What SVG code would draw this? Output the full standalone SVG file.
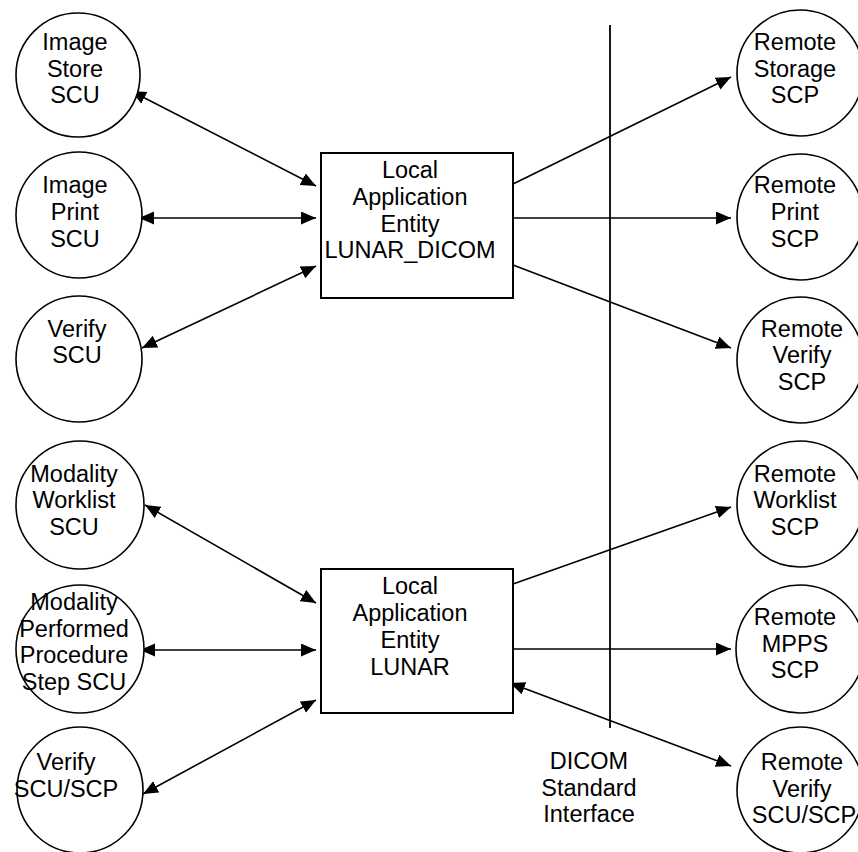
<svg xmlns="http://www.w3.org/2000/svg" width="858" height="852" viewBox="0 0 858 852">
<defs>
<marker id="ah" markerUnits="userSpaceOnUse" markerWidth="16" markerHeight="14" refX="15" refY="6.5" orient="auto-start-reverse">
<path d="M0,0 L15,6.5 L0,13 Z" fill="#000"/>
</marker>
<style>
.c{fill:#fff;stroke:#000;stroke-width:1.6}
.b{fill:#fff;stroke:#000;stroke-width:2}
.l{fill:none;stroke:#000;stroke-width:1.6;marker-start:url(#ah);marker-end:url(#ah)}
.l1{fill:none;stroke:#000;stroke-width:1.6;marker-end:url(#ah)}
text{font-family:"Liberation Sans",Arial,sans-serif;font-size:23.5px;fill:#000;text-anchor:middle}
</style>
</defs>
<rect width="858" height="852" fill="#fff"/>
<g id="interface">
<line x1="610" y1="25" x2="610" y2="728" stroke="#000" stroke-width="1.8"/>
<text x="589" y="769">DICOM</text>
<text x="589" y="796">Standard</text>
<text x="589" y="822">Interface</text>
</g>
<g id="connectors">
<line class="l" x1="131" y1="91" x2="316" y2="186"/>
<line class="l" x1="139" y1="218" x2="316" y2="218"/>
<line class="l" x1="142" y1="348" x2="316" y2="266"/>
<line class="l1" x1="513" y1="184" x2="731" y2="77"/>
<line class="l1" x1="513" y1="218" x2="731" y2="218"/>
<line class="l1" x1="513" y1="265" x2="731" y2="348"/>
<line class="l" x1="145" y1="505" x2="316" y2="603"/>
<line class="l" x1="140" y1="650" x2="316" y2="650"/>
<line class="l" x1="143" y1="794" x2="316" y2="700"/>
<line class="l1" x1="513" y1="584" x2="731" y2="507"/>
<line class="l1" x1="513" y1="649" x2="731" y2="649"/>
<line class="l" x1="510" y1="683" x2="731" y2="766"/>
</g>
<g id="lae-dicom">
<rect class="b" x="321" y="153" width="192" height="145"/>
<text x="410" y="178">Local</text>
<text x="410" y="205">Application</text>
<text x="410" y="232">Entity</text>
<text x="410" y="258">LUNAR_DICOM</text>
</g>
<g id="lae-lunar">
<rect class="b" x="321" y="569" width="192" height="144"/>
<text x="410" y="594">Local</text>
<text x="410" y="621">Application</text>
<text x="410" y="648">Entity</text>
<text x="410" y="675">LUNAR</text>
</g>
<g id="image-store-scu">
<circle class="c" cx="78" cy="75" r="62"/>
<text x="75" y="50">Image</text>
<text x="75" y="77">Store</text>
<text x="75" y="103">SCU</text>
</g>
<g id="image-print-scu">
<circle class="c" cx="79" cy="215" r="63"/>
<text x="75" y="193">Image</text>
<text x="75" y="220">Print</text>
<text x="75" y="247">SCU</text>
</g>
<g id="verify-scu">
<circle class="c" cx="79" cy="359" r="63"/>
<text x="77" y="337">Verify</text>
<text x="77" y="363">SCU</text>
</g>
<g id="modality-worklist-scu">
<circle class="c" cx="80" cy="505" r="64"/>
<text x="74" y="482">Modality</text>
<text x="74" y="508">Worklist</text>
<text x="74" y="535">SCU</text>
</g>
<g id="mpps-scu">
<circle class="c" cx="80" cy="649" r="64"/>
<text x="74" y="610">Modality</text>
<text x="74" y="637">Performed</text>
<text x="74" y="663">Procedure</text>
<text x="74" y="690">Step SCU</text>
</g>
<g id="verify-scu-scp">
<circle class="c" cx="80" cy="790" r="63"/>
<text x="66" y="770">Verify</text>
<text x="66" y="797">SCU/SCP</text>
</g>
<g id="remote-storage-scp">
<circle class="c" cx="800" cy="73" r="63"/>
<text x="795" y="50">Remote</text>
<text x="795" y="77">Storage</text>
<text x="795" y="103">SCP</text>
</g>
<g id="remote-print-scp">
<circle class="c" cx="800" cy="217" r="63"/>
<text x="795" y="193">Remote</text>
<text x="795" y="220">Print</text>
<text x="795" y="247">SCP</text>
</g>
<g id="remote-verify-scp">
<circle class="c" cx="800" cy="360" r="63"/>
<text x="802" y="337">Remote</text>
<text x="802" y="363">Verify</text>
<text x="802" y="390">SCP</text>
</g>
<g id="remote-worklist-scp">
<circle class="c" cx="800" cy="504" r="63"/>
<text x="795" y="482">Remote</text>
<text x="795" y="508">Worklist</text>
<text x="795" y="535">SCP</text>
</g>
<g id="remote-mpps-scp">
<circle class="c" cx="800" cy="649" r="64"/>
<text x="795" y="625">Remote</text>
<text x="795" y="652">MPPS</text>
<text x="795" y="678">SCP</text>
</g>
<g id="remote-verify-scu-scp">
<circle class="c" cx="800" cy="790" r="63"/>
<text x="802" y="770">Remote</text>
<text x="802" y="797">Verify</text>
<text x="804" y="823">SCU/SCP</text>
</g>
</svg>
